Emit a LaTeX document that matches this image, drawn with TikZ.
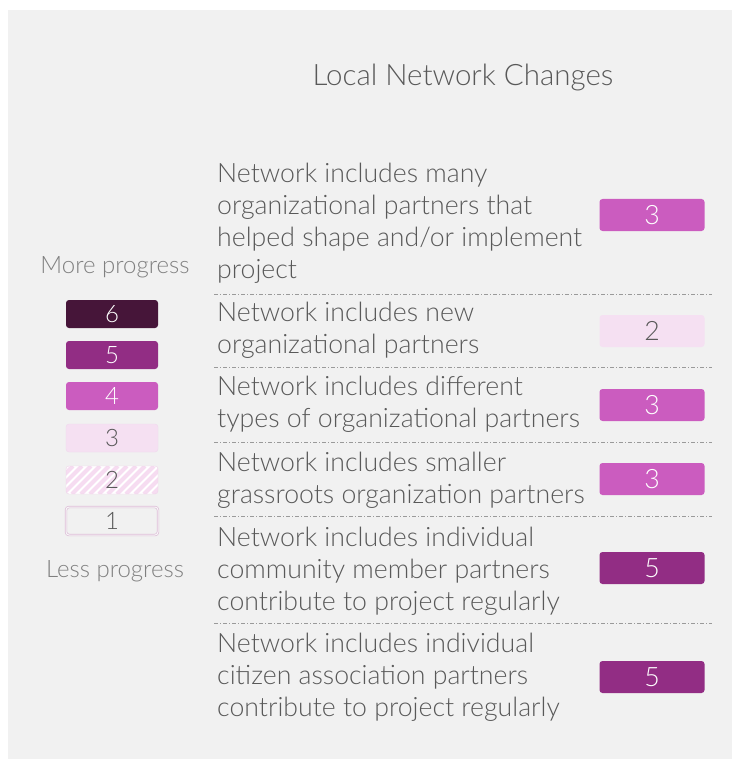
\documentclass[tikz,border=0pt]{standalone}
\usepackage{fontspec}
\setmainfont{Lato}[UprightFont=* Light]
\usetikzlibrary{positioning}

\definecolor{bggray}{HTML}{F1F1F1}
\definecolor{textgray}{HTML}{595959}
\definecolor{keygray}{HTML}{808080}
\definecolor{linegray}{HTML}{9A9A9A}
\definecolor{lvlsix}{HTML}{461539}
\definecolor{lvlfive}{HTML}{922D84}
\definecolor{lvlfour}{HTML}{CB5CBF}
\definecolor{lvlthree}{HTML}{F5E0F2}
\definecolor{lvltwo}{HTML}{F6DCF1}
\definecolor{lvlone}{HTML}{DDBCD7}

\tikzset{
  rowtext/.style={anchor=base west, inner sep=0pt, align=left, text=textgray, font=\fontsize{26.67}{32}\selectfont},
  scorebox/.style={rounded corners=3pt, minimum width=105pt, minimum height=32pt, inner sep=0pt, font=\fontsize{26.67}{26.67}\selectfont},
  keybox/.style={rounded corners=3pt, minimum width=92pt, minimum height=28pt, inner sep=0pt, font=\fontsize{24}{24}\selectfont},
  keytext/.style={anchor=base, inner sep=0pt, text=keygray, font=\fontsize{24}{24}\selectfont},
  rowsep/.style={draw=linegray, line width=0.8pt, dash pattern=on 4pt off 2pt on 1pt off 2pt},
}

\begin{document}
\begin{tikzpicture}[x=1pt,y=1pt,yscale=-1,xscale=1]
\path[use as bounding box, fill=white] (0,0) rectangle (732,759);

%Shape: Background
\fill[bggray] (8,10) rectangle (732,759);

% Title
\node (title) at (463,86) [anchor=base, inner sep=0pt, text=textgray, font=\fontsize{29.5}{29.5}\selectfont] {Local Network Changes};

% Key
\node (more) at (115,273) [keytext] {More progress};
\node (k6) at (112,314) [keybox, fill=lvlsix, text=white] {6};
\node (k5) at (112,355) [keybox, fill=lvlfive, text=white] {5};
\node (k4) at (112,396) [keybox, fill=lvlfour, text=white] {4};
\node (k3) at (112,438) [keybox, fill=lvlthree, draw=lvlthree!80!lvlone, text=textgray] {3};
\node (k2) at (112,480) [keybox, draw=lvltwo!70!lvlone, fill=white, text=textgray,
  path picture={\foreach \i in {-30,-21,...,96}
    \draw[lvltwo, line width=4pt] ([xshift=\i pt]path picture bounding box.south west) -- ([xshift={\i pt+28pt}]path picture bounding box.north west);}] {2};
\node (k1) at (112,521) [keybox, draw=lvlone, double=bggray!60!white, double distance=1pt, line width=0.7pt, text=textgray] {1};
\node (less) at (115,577) [keytext] {Less progress};

% Text Node (anchored at the last line)
\node (r1) at (217,278) [rowtext] {Network includes many\\organizational partners that\\helped shape and/or implement\\project};
\node (r2) at (217,353) [rowtext] {Network includes new\\organizational partners};
\node (r3) at (217,427) [rowtext] {Network includes different\\types of organizational partners};
\node (r4) at (217,503) [rowtext] {Network includes smaller\\grassroots organization partners};
\node (r5) at (217,610) [rowtext] {Network includes individual\\community member partners\\contribute to project regularly};
\node (r6) at (217,716) [rowtext] {Network includes individual\\citizen association partners\\contribute to project regularly};

% Scores
\node (s1) at (652,215) [scorebox, fill=lvlfour, text=white] {3};
\node (s2) at (652,331) [scorebox, fill=lvlthree, text=textgray] {2};
\node (s3) at (652,405) [scorebox, fill=lvlfour, text=white] {3};
\node (s4) at (652,479) [scorebox, fill=lvlfour, text=white] {3};
\node (s5) at (652,568) [scorebox, fill=lvlfive, text=white] {5};
\node (s6) at (652,677) [scorebox, fill=lvlfive, text=white] {5};

%Straight Lines
\foreach \n/\y in {a/294,b/367,c/442,d/516,e/623}{
  \coordinate (\n l) at (214,\y);
  \coordinate (\n r) at (712,\y);
  \draw[rowsep] (\n l) -- (\n r);
}

\end{tikzpicture}
\end{document}
